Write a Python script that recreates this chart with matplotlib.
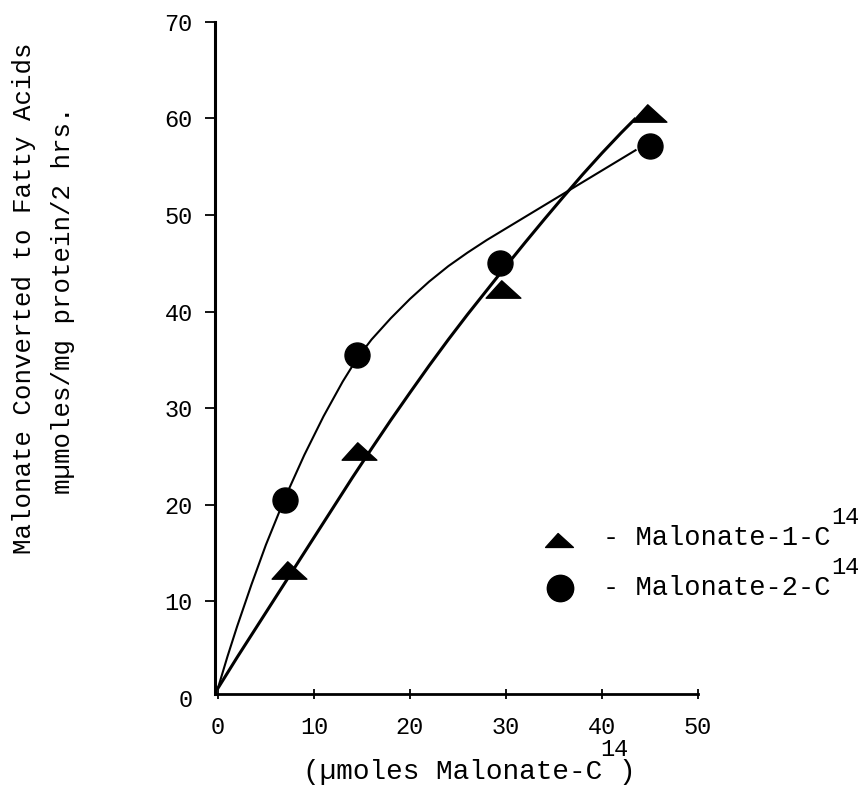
import numpy as np
import matplotlib
matplotlib.use("Agg")
import matplotlib.pyplot as plt
from matplotlib.path import Path

plt.rcParams['font.family'] = ['Liberation Mono', 'DejaVu Sans Mono']

# measured points (umoles malonate, mumoles/mg protein/2 hrs)
tri_x = [7.4, 14.7, 29.7, 44.9]
tri_y = [13.2, 25.6, 42.3, 60.5]
circ_x = [7.0, 14.5, 29.4, 45.0]
circ_y = [20.5, 35.5, 45.0, 57.1]

# hand drawn curves
tri_curve_x = [0, 2, 4, 6, 8, 10, 12, 14, 16, 18, 20, 22, 24, 26, 28, 30,
               32, 34, 36, 38, 40, 42, 43.4]
tri_curve_y = [1.0, 4.2, 7.3, 10.4, 13.5, 16.6, 19.7, 22.8, 25.8, 28.75, 31.6, 34.4,
               37.1, 39.7, 42.2, 44.7, 47.15, 49.55, 51.9, 54.2, 56.4, 58.5, 59.9]
circ_curve_x = [0, 1, 2, 3.5, 5, 7, 9, 11, 13, 14.5, 16, 18, 20, 22, 24, 26, 28,
                30, 33, 36, 39, 42, 43.5]
circ_curve_y = [1.0, 4.3, 7.4, 11.75, 15.85, 20.75, 25.15, 29.15, 32.75, 35.15, 37.1,
                39.3, 41.3, 43.1, 44.7, 46.1, 47.4, 48.6, 50.4, 52.2, 54.0, 55.8, 56.7]

x_ticks = [0, 10, 20, 30, 40, 50]
y_ticks = [0, 10, 20, 30, 40, 50, 60, 70]

# flat typewriter-ish triangle
tri_marker = Path([(-1, -0.5), (1, -0.5), (-0.1, 0.5), (-1, -0.5)],
                  [Path.MOVETO, Path.LINETO, Path.LINETO, Path.CLOSEPOLY])

fig = plt.figure(figsize=(8.66, 7.87), dpi=100)
ax = fig.add_axes([215 / 866, 1 - 698 / 787, 483 / 866, 676.3 / 787])

ax.plot(circ_curve_x, circ_curve_y, color='black', lw=1.5, solid_joinstyle='round')
ax.plot(tri_curve_x, tri_curve_y, color='black', lw=2.2, solid_joinstyle='round')
ax.plot(tri_x, tri_y, linestyle='none', marker=tri_marker, ms=25, color='black')
ax.plot(circ_x, circ_y, linestyle='none', marker='o', ms=18, color='black')

ax.set_xlim(-0.3, 50)
ax.set_ylim(0, 70)
ax.spines['top'].set_visible(False)
ax.spines['right'].set_visible(False)
ax.spines['left'].set_linewidth(2.2)
ax.spines['bottom'].set_linewidth(2.0)
ax.spines['bottom'].set_position(('data', 0.4))
ax.spines['left'].set_bounds(0.4, 70)
ax.spines['bottom'].set_bounds(-0.3, 50)

ax.set_xticks(x_ticks)
ax.set_yticks(y_ticks)
ax.tick_params(axis='y', direction='out', length=7, width=1.3, pad=9, labelsize=17)
ax.tick_params(axis='x', direction='inout', length=7, width=1.3, pad=12, labelsize=17)
ax.yaxis.get_major_ticks()[0].tick1line.set_visible(False)

# legend, typed by hand in the original
ax.plot([35.5], [16.4], linestyle='none', marker=tri_marker, ms=20, color='black', clip_on=False)
ax.plot([35.6], [11.4], linestyle='none', marker='o', ms=19, color='black', clip_on=False)
ax.text(40.1, 16.6, '- Malonate-1-C', fontsize=19.5, va='center', ha='left', clip_on=False)
ax.text(40.1, 11.4, '- Malonate-2-C', fontsize=19.5, va='center', ha='left', clip_on=False)
ax.text(63.9, 18.7, '14', fontsize=17, va='center', ha='left', clip_on=False)
ax.text(63.9, 13.5, '14', fontsize=17, va='center', ha='left', clip_on=False)

# axis titles
fig.text(24 / 866, 1 - 298 / 787, 'Malonate Converted to Fatty Acids',
         rotation=90, ha='center', va='center', fontsize=18.5)
fig.text(63 / 866, 1 - 300 / 787, 'm\u00b5moles/mg protein/2 hrs.',
         rotation=90, ha='center', va='center', fontsize=18.5)
fig.text(303 / 866, 1 - 772 / 787, '(\u00b5moles Malonate-C', ha='left', va='center', fontsize=20)
fig.text(600 / 866, 1 - 750 / 787, '14', ha='left', va='center', fontsize=17)
fig.text(618 / 866, 1 - 772 / 787, ')', ha='left', va='center', fontsize=20)

fig.savefig('out.png', dpi=100)
